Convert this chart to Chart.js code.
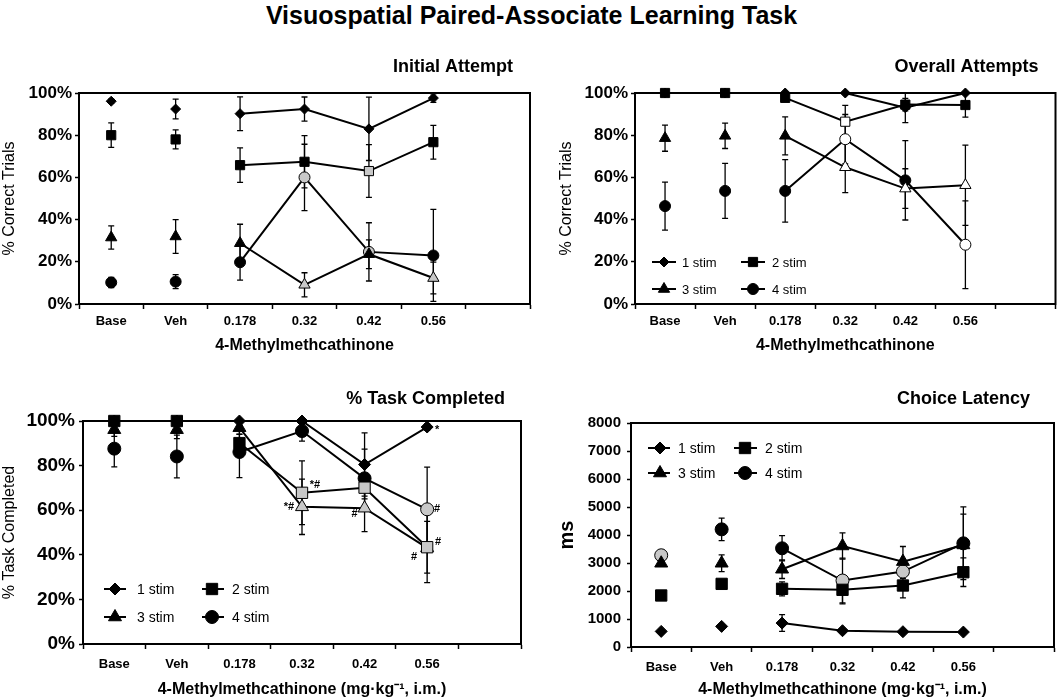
<!DOCTYPE html>
<html>
<head>
<meta charset="utf-8">
<script src="https://cdn.jsdelivr.net/npm/chart.js@4.4.1/dist/chart.umd.min.js"></script>
<style>
  body { margin: 0; background: #fff; }
  #wrap { position: relative; width: 1063px; height: 699px; font-family: 'Liberation Sans', Arial, sans-serif; }
  #mainTitle { position: absolute; left: 0; top: 1px; width: 1063px; text-align: center; font-weight: bold; font-size: 25px; line-height: 28px; }
  canvas { position: absolute; }
</style>
</head>
<body>
<div id="wrap">
  <div id="mainTitle">Visuospatial Paired-Associate Learning Task</div>
  <canvas id="c1" width="540" height="320" style="left:0;top:40px;width:540px;height:320px"></canvas>
  <canvas id="c2" width="523" height="320" style="left:540px;top:40px;width:523px;height:320px"></canvas>
  <canvas id="c3" width="540" height="339" style="left:0;top:360px;width:540px;height:339px"></canvas>
  <canvas id="c4" width="523" height="339" style="left:540px;top:360px;width:523px;height:339px"></canvas>
</div>
<script>
// categories and series labels
const doseLabels = ['Base', 'Veh', '0.178', '0.32', '0.42', '0.56', ''];
const stimLabels = ['1 stim', '2 stim', '3 stim', '4 stim'];

// Initial Attempt (% correct trials)
const init1 = [96.1, 92.4, 90.2, 92.4, 83.0, 97.6];
const init2 = [80.0, 78.0, 65.8, 67.4, 63.0, 76.7];
const init3 = [31.5, 32.0, 28.8, 9.1, 23.6, 12.3];
const init4 = [10.2, 10.6, 19.8, 60.0, 24.7, 23.0];
const initErr1 = [1, 4.7, 8, 5.7, 15, 2];
const initErr2 = [5.8, 4.5, 8.2, 12.4, 12.5, 8];
const initErr3 = [5.5, 8, 9, 5.7, 6.8, 7.5];
const initErr4 = [2.4, 3.3, 8.5, 15.7, 13.8, 21.8];
// k = black, g = grey (significant), w = white (significant)
const initFill2 = ['k', 'k', 'k', 'k', 'g', 'k'];
const initFill3 = ['k', 'k', 'k', 'g', 'k', 'g'];
const initFill4 = ['k', 'k', 'k', 'g', 'g', 'k'];

// Overall Attempts (% correct trials)
const over1 = [100, 100, 100, 100, 93.0, 100];
const over2 = [100, 100, 97.7, 86.4, 94.5, 94.3];
const over3 = [78.6, 79.7, 79.7, 64.8, 54.7, 56.3];
const over4 = [46.4, 53.6, 53.6, 78.1, 58.6, 28.1];
const overErr1 = [0, 0, 0, 0, 7, 0];
const overErr2 = [0, 0, 0, 7.7, 3, 5.7];
const overErr3 = [6.2, 6, 9, 12, 9.4, 19];
const overErr4 = [11.4, 13, 14.8, 11.7, 18.8, 20.8];
const overFill2 = ['k', 'k', 'k', 'w', 'k', 'k'];
const overFill3 = ['k', 'k', 'k', 'w', 'w', 'w'];
const overFill4 = ['k', 'k', 'k', 'w', 'k', 'w'];

// % Task Completed
const task1 = [100, 100, 100, 100, 80.5, 97.3];
const task2 = [100, 100, 90.1, 67.8, 70.1, 43.4];
const task3 = [96.1, 96.1, 97.0, 61.5, 60.9, 43.1];
const task4 = [87.6, 84.1, 86.1, 95.5, 74.3, 60.4];
const taskErr1 = [0, 0, 0, 0, 14.2, 1.5];
const taskErr2 = [0, 0, 4, 14.3, 5, 11.6];
const taskErr3 = [3, 4, 3, 12.4, 10.5, 15.6];
const taskErr4 = [8.2, 9.6, 11.5, 4.5, 13.1, 18.9];
const taskFill2 = ['k', 'k', 'k', 'g', 'g', 'g'];
const taskFill3 = ['k', 'k', 'k', 'g', 'g', 'g'];
const taskFill4 = ['k', 'k', 'k', 'k', 'k', 'g'];
// significance marks: text, series index, dose index
const taskNotes = [
  ['*#', 1, 3, 13, -8], ['*#', 2, 3, -13, 0], ['#', 2, 4, -10, 6],
  ['*', 0, 5, 10, 3], ['#', 3, 5, 10, 0], ['#', 1, 5, 11, -5], ['#', 2, 5, -13, 9]
];

// Choice Latency (ms)
const lat1 = [558, 736, 855, 582, 546, 534];
const lat2 = [1840, 2255, 2077, 2042, 2196, 2670];
const lat3 = [2991, 2991, 2777, 3608, 3050, 3644];
const lat4 = [3276, 4202, 3525, 2374, 2694, 3703];
const latErr1 = [0, 0, 300, 0, 0, 0];
const latErr2 = [0, 100, 250, 500, 440, 510];
const latErr3 = [0, 300, 330, 470, 540, 1100];
const latErr4 = [200, 400, 450, 800, 250, 1300];
const latFill4 = ['g', 'k', 'k', 'g', 'g', 'k'];

const FONT = "'Liberation Sans', Arial, sans-serif";
Chart.defaults.font.family = FONT;
Chart.defaults.color = '#000';

const pointStyles = ['rectRot', 'rect', 'triangle', 'circle'];
const fillColor = { k: '#000', g: '#c8c8c8', w: '#fff' };

// frame round the plot area
const boxPlugin = {
  id: 'box',
  beforeDatasetsDraw(chart) {
    const { ctx, chartArea: a } = chart;
    ctx.save();
    ctx.strokeStyle = '#000';
    ctx.lineWidth = 2;
    ctx.strokeRect(a.left, a.top, a.width, a.height);
    ctx.restore();
  }
};

// vertical error bars with caps
const errorBars = {
  id: 'errorBars',
  beforeDatasetsDraw(chart) {
    const { ctx, chartArea: a, scales: { y } } = chart;
    ctx.save();
    ctx.beginPath();
    ctx.rect(a.left, a.top - 1, a.width, a.height + 1);
    ctx.clip();
    ctx.strokeStyle = '#000';
    ctx.lineWidth = 1.3;
    chart.data.datasets.forEach((ds, i) => {
      const meta = chart.getDatasetMeta(i);
      meta.data.forEach((pt, j) => {
        const v = ds.data[j], e = ds.errors[j];
        if (v == null || !e) return;
        const t = y.getPixelForValue(v + e), b = y.getPixelForValue(v - e);
        ctx.beginPath();
        ctx.moveTo(pt.x, t); ctx.lineTo(pt.x, b);
        ctx.moveTo(pt.x - 3, t); ctx.lineTo(pt.x + 3, t);
        ctx.moveTo(pt.x - 3, b); ctx.lineTo(pt.x + 3, b);
        ctx.stroke();
      });
    });
    ctx.restore();
  }
};

// panel title, legend and significance marks
const panelText = {
  id: 'panelText',
  afterDraw(chart, args, o) {
    const { ctx, chartArea: a } = chart;
    ctx.save();
    ctx.fillStyle = '#000';
    ctx.font = 'bold 18px ' + FONT;
    ctx.textAlign = 'right';
    ctx.textBaseline = 'middle';
    ctx.fillText(o.title, a.right - o.titleDx, a.top - o.titleDy);

    if (o.legend) {
      const L = o.legend;
      chart.data.datasets.forEach((ds, i) => {
        const c = L.cols[i % 2];
        const r = L.rows[Math.floor(i / 2)];
        const yy = L.fromTop ? a.top + r : a.bottom - r;
        ctx.strokeStyle = '#000';
        ctx.lineWidth = 2;
        ctx.beginPath();
        ctx.moveTo(a.left + c[0], yy); ctx.lineTo(a.left + c[1], yy);
        ctx.stroke();
        ctx.fillStyle = '#000';
        ctx.lineWidth = 1;
        Chart.helpers.drawPoint(ctx, { pointStyle: ds.pointStyle, radius: ds.pointRadius, borderWidth: 1, rotation: 0 }, a.left + c[2], yy);
        ctx.font = L.size + 'px ' + FONT;
        ctx.textAlign = 'left';
        ctx.fillText(ds.label, a.left + c[3], yy + 1);
      });
    }

    if (o.notes) {
      ctx.font = 'bold 11px ' + FONT;
      ctx.textAlign = 'center';
      ctx.fillStyle = '#000';
      o.notes.forEach(n => {
        const pt = chart.getDatasetMeta(n[1]).data[n[2]];
        ctx.fillText(n[0], pt.x + n[3], pt.y + n[4]);
      });
    }
    ctx.restore();
  }
};

function makePanel(id, p) {
  const datasets = p.series.map((vals, i) => {
    const fills = p.fills[i] || vals.map(() => 'k');
    return {
      label: stimLabels[i],
      data: vals,
      errors: p.errors[i],
      pointStyle: pointStyles[i],
      pointRadius: p.radius[i],
      pointHoverRadius: p.radius[i],
      pointBackgroundColor: fills.map(f => fillColor[f]),
      pointBorderColor: '#000',
      pointBorderWidth: 1,
      borderColor: '#000',
      borderWidth: 2,
      tension: 0,
      clip: false,
      // Base and Veh stand alone; only the doses are joined
      segment: { borderColor: c => (c.p0DataIndex < 2 ? 'rgba(0,0,0,0)' : '#000') }
    };
  });

  return new Chart(document.getElementById(id), {
    type: 'line',
    data: { labels: doseLabels, datasets: datasets },
    plugins: [boxPlugin, errorBars, panelText],
    options: {
      responsive: false,
      animation: false,
      events: [],
      layout: { padding: p.pad },
      plugins: {
        legend: { display: false },
        tooltip: { enabled: false },
        panelText: { title: p.title, titleDx: p.titleDx, titleDy: p.titleDy, legend: p.legend, notes: p.notes }
      },
      scales: {
        x: {
          type: 'category',
          offset: true,
          grid: { offset: true, drawOnChartArea: false, tickLength: 5, color: '#000', tickColor: '#000', tickWidth: 1.5 },
          border: { color: '#000', width: 2 },
          ticks: { font: { size: 13, weight: 'bold' }, color: '#000', padding: p.xPad, maxRotation: 0, autoSkip: false },
          title: { display: true, text: p.xTitle, font: { size: 16, weight: 'bold' }, color: '#000', padding: { top: 0, bottom: p.xTitlePad } },
          afterFit: s => { s.height = p.xH; }
        },
        y: {
          min: 0,
          max: p.yMax,
          grid: { drawOnChartArea: false, tickLength: 4, color: '#000', tickColor: '#000', tickWidth: 1.5 },
          border: { color: '#000', width: 2 },
          ticks: { stepSize: p.yStep, callback: p.yFmt, font: { size: p.ySize, weight: 'bold' }, color: '#000', padding: p.yPad },
          title: { display: true, text: p.yTitle, font: p.yTitleFont, color: '#000', padding: { top: p.yTitlePad, bottom: 0 } },
          afterFit: s => { s.width = p.yW; }
        }
      }
    }
  });
}

const pct = v => v + '%';
const xName = '4-Methylmethcathinone';
const xNameUnits = '4-Methylmethcathinone (mg\u00b7kg\u207b\u00b9, i.m.)';

makePanel('c1', {
  series: [init1, init2, init3, init4],
  errors: [initErr1, initErr2, initErr3, initErr4],
  fills: [null, initFill2, initFill3, initFill4],
  radius: [5, 6.5, 6.5, 5.5],
  pad: { left: 0, right: 10, top: 53, bottom: 0 },
  yW: 79, xH: 56, xPad: 4.5, yPad: 3, xTitlePad: 5, yTitlePad: 0,
  yMax: 100, yStep: 20, yFmt: pct, ySize: 17,
  yTitle: '% Correct Trials', yTitleFont: { size: 16 },
  xTitle: xName,
  title: 'Initial Attempt', titleDx: 17, titleDy: 26
});

makePanel('c2', {
  series: [over1, over2, over3, over4],
  errors: [overErr1, overErr2, overErr3, overErr4],
  fills: [null, overFill2, overFill3, overFill4],
  radius: [5, 6.5, 6.5, 5.5],
  pad: { left: 0, right: 3, top: 53, bottom: 0 },
  yW: 95, xH: 56, xPad: 4.5, yPad: 3, xTitlePad: 5, yTitlePad: 17,
  yMax: 100, yStep: 20, yFmt: pct, ySize: 17,
  yTitle: '% Correct Trials', yTitleFont: { size: 16 },
  xTitle: xName,
  title: 'Overall Attempts', titleDx: 17, titleDy: 26,
  legend: { rows: [42, 15], fromTop: false, size: 13, cols: [[17, 41, 29, 47], [106, 130, 118, 137]] }
});

makePanel('c3', {
  series: [task1, task2, task3, task4],
  errors: [taskErr1, taskErr2, taskErr3, taskErr4],
  fills: [null, taskFill2, taskFill3, taskFill4],
  radius: [6, 8, 7.5, 6.5],
  pad: { left: 0, right: 19, top: 61, bottom: 0 },
  yW: 83, xH: 55, xPad: 7.5, yPad: 4, xTitlePad: 0, yTitlePad: 0,
  yMax: 100, yStep: 20, yFmt: pct, ySize: 19,
  yTitle: '% Task Completed', yTitleFont: { size: 16 },
  xTitle: xNameUnits,
  title: '% Task Completed', titleDx: 16, titleDy: 22,
  legend: { rows: [55, 27], fromTop: false, size: 14, cols: [[21, 43, 32, 54], [119, 141, 129, 149]] },
  notes: taskNotes
});

makePanel('c4', {
  series: [lat1, lat2, lat3, lat4],
  errors: [latErr1, latErr2, latErr3, latErr4],
  fills: [null, null, null, latFill4],
  radius: [6, 8, 7.5, 6.5],
  pad: { left: 0, right: 3, top: 63, bottom: 0 },
  yW: 91, xH: 52, xPad: 7.5, yPad: 6, xTitlePad: 0, yTitlePad: 15,
  yMax: 8000, yStep: 1000, yFmt: v => v, ySize: 15,
  yTitle: 'ms', yTitleFont: { size: 20, weight: 'bold' },
  xTitle: xNameUnits,
  title: 'Choice Latency', titleDx: 24, titleDy: 24,
  legend: { rows: [25, 50], fromTop: true, size: 14, cols: [[17, 39, 29, 47], [103, 126, 114, 134]] }
});
</script>
</body>
</html>
